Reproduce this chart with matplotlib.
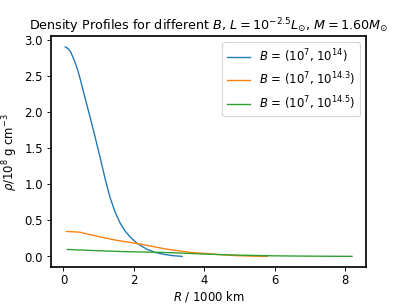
import matplotlib.pyplot as plt
from matplotlib.ticker import MultipleLocator

# -----------------------------
# Data
# -----------------------------

r_b14 = [0.05, 0.12, 0.19, 0.26, 0.33, 0.40, 0.47, 0.61, 0.76, 0.90, 1.04,
         1.18, 1.32, 1.46, 1.61, 1.75, 1.89, 2.08, 2.36, 2.60, 2.83, 3.10,
         3.37]
rho_b14 = [2.90, 2.88, 2.84, 2.77, 2.685, 2.585, 2.465, 2.20, 1.92, 1.65, 1.37,
           1.08, 0.82, 0.62, 0.46, 0.35, 0.27, 0.185, 0.10, 0.055, 0.03, 0.01,
           0.0]

r_b143 = [0.08, 0.47, 0.76, 1.10, 1.42, 1.80, 2.12, 2.50, 2.93, 3.30, 3.60,
          3.97, 4.40, 4.91, 5.40, 5.79]
rho_b143 = [0.345, 0.335, 0.30, 0.265, 0.23, 0.20, 0.175, 0.14, 0.10, 0.075,
            0.055, 0.042, 0.025, 0.010, 0.003, 0.0]

r_b145 = [0.11, 1.0, 1.7, 2.5, 3.0, 3.5, 4.0, 4.5, 5.0, 5.9, 6.5, 7.0, 7.6, 8.19]
rho_b145 = [0.095, 0.078, 0.066, 0.058, 0.052, 0.042, 0.032, 0.024, 0.017,
            0.008, 0.005, 0.003, 0.0015, 0.0]

labels = [r"$B$ = $(10^7$, $10^{14})$",
          r"$B$ = $(10^7$, $10^{14.3})$",
          r"$B$ = $(10^7$, $10^{14.5})$"]

# -----------------------------
# Plot
# -----------------------------

plt.rcParams["font.size"] = 10.3

fig, ax = plt.subplots(figsize=(5.0, 3.75), dpi=81.4)
fig.subplots_adjust(bottom=0.125, top=0.88)

ax.plot(r_b14, rho_b14, label=labels[0], lw=1.2)
ax.plot(r_b143, rho_b143, label=labels[1], lw=1.2)
ax.plot(r_b145, rho_b145, label=labels[2], lw=1.2)

ax.set_title(r"Density Profiles for different $B$, $L = 10^{-2.5} L_{\odot}$, "
             r"$M = 1.60 M_{\odot}$", fontsize=11.3)
ax.set_xlabel(r"$R$ / 1000 km", labelpad=1.5)
ax.set_ylabel(r"$\rho / 10^8$ g cm$^{-3}$")
ax.xaxis.set_major_locator(MultipleLocator(2))
ax.tick_params(axis="x", pad=2.5)
ax.legend()

for spine in ax.spines.values():
    spine.set_linewidth(1.5)

fig.savefig("out.png", dpi=81.4)
